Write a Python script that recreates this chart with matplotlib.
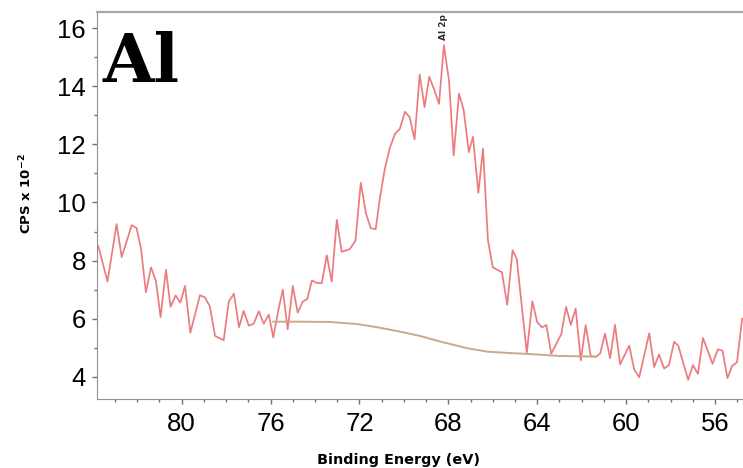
import numpy as np
from matplotlib import pyplot as plt
from matplotlib.ticker import MultipleLocator

# Al 2p spectrum
binding_energy = [83.75, 83.34, 82.93, 82.70, 82.25, 82.03, 81.83, 81.61, 81.38, 81.16,
                  80.95, 80.71, 80.50, 80.28, 80.06, 79.85, 79.61, 79.18, 78.95, 78.73,
                  78.50, 78.11, 77.88, 77.65, 77.42, 77.21, 76.98, 76.76, 76.53, 76.31,
                  76.08, 75.88, 75.65, 75.45, 75.23, 75.00, 74.78, 74.55, 74.35, 74.14,
                  73.91, 73.70, 73.47, 73.25, 73.02, 72.80, 72.65, 72.43, 72.18, 71.94,
                  71.71, 71.49, 71.27, 71.08, 70.85, 70.63, 70.40, 70.18, 69.95, 69.74,
                  69.52, 69.29, 69.07, 68.86, 68.63, 68.42, 68.20, 67.97, 67.76, 67.52,
                  67.31, 67.08, 66.89, 66.65, 66.44, 66.22, 66.00, 65.59, 65.35, 65.11,
                  64.92, 64.47, 64.22, 64.00, 63.78, 63.59, 63.37, 62.92, 62.70, 62.49,
                  62.27, 62.04, 61.82, 61.59, 61.36, 61.17, 60.95, 60.72, 60.50, 60.27,
                  59.86, 59.64, 59.41, 58.96, 58.74, 58.52, 58.29, 58.07, 57.84, 57.65,
                  57.21, 56.99, 56.77, 56.54, 56.11, 55.87, 55.66, 55.44, 55.23, 55.01,
                  54.78]
cps = [8.49, 7.28, 9.26, 8.12, 9.22, 9.12, 8.40, 6.91, 7.77, 7.30,
       6.06, 7.69, 6.41, 6.80, 6.56, 7.13, 5.52, 6.81, 6.73, 6.42,
       5.41, 5.26, 6.60, 6.86, 5.71, 6.27, 5.76, 5.83, 6.26, 5.83,
       6.14, 5.36, 6.30, 7.00, 5.64, 7.13, 6.21, 6.59, 6.68, 7.32,
       7.23, 7.22, 8.18, 7.28, 9.40, 8.30, 8.34, 8.40, 8.69, 10.68,
       9.63, 9.11, 9.08, 10.16, 11.19, 11.89, 12.36, 12.54, 13.12, 12.93,
       12.17, 14.40, 13.28, 14.32, 13.87, 13.39, 15.41, 14.19, 11.62, 13.74,
       13.18, 11.73, 12.26, 10.33, 11.85, 8.71, 7.77, 7.60, 6.48, 8.36,
       8.05, 4.82, 6.60, 5.88, 5.70, 5.79, 4.80, 5.47, 6.41, 5.79,
       6.35, 4.57, 5.78, 4.71, 4.69, 4.80, 5.49, 4.64, 5.79, 4.43,
       5.08, 4.26, 3.99, 5.50, 4.34, 4.77, 4.29, 4.41, 5.21, 5.07,
       3.90, 4.41, 4.10, 5.34, 4.45, 4.95, 4.90, 3.96, 4.38, 4.50,
       6.00]

# Shirley background
bg_energy = [75.88, 74.68, 73.33, 72.12, 71.22, 70.18, 69.28, 68.38, 67.17, 66.26,
             65.22, 64.19, 62.97, 61.35]
bg_cps = [5.90, 5.90, 5.89, 5.82, 5.71, 5.56, 5.41, 5.22, 4.99, 4.87,
          4.82, 4.78, 4.72, 4.70]

peak_name = 'Al 2p'
peak_energy = 68.20
x_ticks = [80, 76, 72, 68, 64, 60, 56]
y_ticks = [4, 6, 8, 10, 12, 14, 16]

fig = plt.figure(figsize=(7.43, 4.68), dpi=100)
ax = fig.add_axes([0.1306, 0.1474, 0.8694, 0.8269])

ax.plot(binding_energy, cps, color='#ec7b7f', linewidth=1.25)
ax.plot(bg_energy, bg_cps, color='#c8aa88', linewidth=1.4)

ax.set_xlim(83.81, 54.74)
ax.set_ylim(3.24, 16.55)
ax.set_xticks(x_ticks)
ax.set_yticks(y_ticks)
ax.xaxis.set_minor_locator(MultipleLocator(1))
ax.yaxis.set_minor_locator(MultipleLocator(1))

for lbl in ax.get_xticklabels() + ax.get_yticklabels():
    lbl.set_fontfamily('Liberation Sans')
    lbl.set_fontsize(18.5)
ax.tick_params(which='major', length=3.6, width=1, color='#707070')
ax.tick_params(which='minor', length=2.2, width=1, color='#707070')
ax.tick_params(axis='x', which='major', pad=5.5)
ax.tick_params(axis='y', which='major', pad=4.3)

ax.spines['right'].set_visible(False)
ax.spines['left'].set_color('#909090')
ax.spines['bottom'].set_color('#909090')
ax.spines['top'].set_color('#a8a8a8')
ax.spines['top'].set_linewidth(1.6)

ax.set_xlabel('Binding Energy (eV)', fontsize=10.4, fontweight='bold',
              fontfamily='DejaVu Sans')
ax.xaxis.set_label_coords(0.466, -0.14)
ax.set_ylabel(r'CPS x 10$^{\mathbf{-2}}$', fontsize=9.5, fontweight='bold',
              fontfamily='DejaVu Sans')
ax.yaxis.set_label_coords(-0.097, 0.53)

# element name and peak label
ax.text(0.008, 0.819, 'Al', transform=ax.transAxes, fontsize=48, fontweight='bold',
        fontfamily='DejaVu Serif', ha='left', va='baseline', color='black')
ax.text(peak_energy, 15.59, peak_name, rotation=90, fontsize=6.5, fontweight='bold',
        ha='center', va='bottom', color='#303030')

plt.savefig('out.png', dpi=100)
